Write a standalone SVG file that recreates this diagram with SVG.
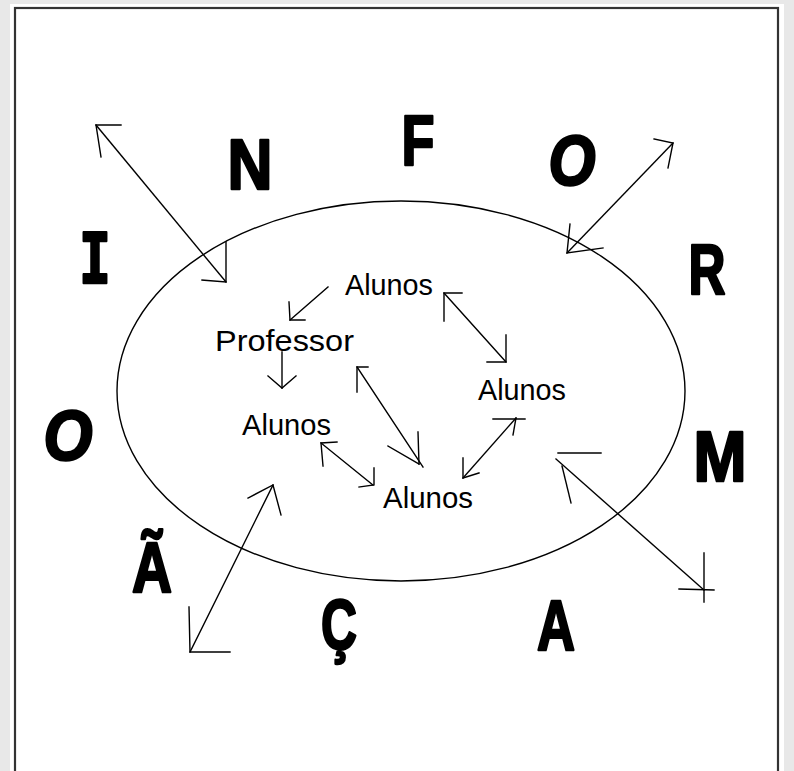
<svg xmlns="http://www.w3.org/2000/svg" width="794" height="771" viewBox="0 0 794 771">
<style>
.big{font-family:"Liberation Sans",Arial,sans-serif;font-weight:bold;font-size:70px;fill:#000;stroke:#000;stroke-width:2.5;stroke-linejoin:round;text-anchor:middle}
.lbl{font-family:"Liberation Sans",Arial,sans-serif;font-size:29px;fill:#000}
.ln{fill:none;stroke:#000;stroke-width:1.4;stroke-linecap:square}
</style>
<rect x="0" y="0" width="794" height="771" fill="#e8e8e8"/>
<rect x="10" y="4" width="774" height="790" fill="#fff"/>
<rect x="15" y="8" width="763" height="790" fill="#fff" stroke="#333" stroke-width="2.2"/>
<ellipse id="circle" cx="401" cy="391" rx="284" ry="190" fill="none" stroke="#000" stroke-width="1.4"/>
<g id="letters">
<text class="big" x="95" y="283" textLength="32" lengthAdjust="spacingAndGlyphs" style="font-family:'DejaVu Sans Mono',monospace">I</text>
<text class="big" x="250" y="189" textLength="45" lengthAdjust="spacingAndGlyphs">N</text>
<text class="big" x="418" y="165" textLength="33" lengthAdjust="spacingAndGlyphs">F</text>
<text class="big" x="572" y="185" textLength="47" lengthAdjust="spacingAndGlyphs" font-style="italic">O</text>
<text class="big" x="707" y="294" textLength="37" lengthAdjust="spacingAndGlyphs">R</text>
<text class="big" x="720" y="481" textLength="53" lengthAdjust="spacingAndGlyphs">M</text>
<text class="big" x="556" y="650" textLength="38" lengthAdjust="spacingAndGlyphs">A</text>
<text class="big" x="339" y="649" textLength="36" lengthAdjust="spacingAndGlyphs">Ç</text>
<text class="big" x="152" y="592" textLength="40" lengthAdjust="spacingAndGlyphs">Ã</text>
<text class="big" x="68" y="460" textLength="49" lengthAdjust="spacingAndGlyphs" font-style="italic">O</text>
</g>
<g id="n-alunos-top"><text class="lbl" x="345" y="295" textLength="88" lengthAdjust="spacingAndGlyphs">Alunos</text></g>
<g id="n-professor"><text class="lbl" x="215" y="351" textLength="139" lengthAdjust="spacingAndGlyphs">Professor</text></g>
<g id="n-alunos-left"><text class="lbl" x="242" y="435" textLength="89" lengthAdjust="spacingAndGlyphs">Alunos</text></g>
<g id="n-alunos-right"><text class="lbl" x="478" y="400" textLength="88" lengthAdjust="spacingAndGlyphs">Alunos</text></g>
<g id="n-alunos-bottom"><text class="lbl" x="383" y="508" textLength="90" lengthAdjust="spacingAndGlyphs">Alunos</text></g>
<g id="connectors">
<line class="ln" x1="96" y1="125" x2="226" y2="282"/>
<polyline class="ln" points="121,125 96,125 101,157"/>
<polyline class="ln" points="226,242 226,282 202,280"/>
<line class="ln" x1="567" y1="253" x2="673" y2="143"/>
<polyline class="ln" points="654,139 673,143 668,168"/>
<polyline class="ln" points="570,224 567,253 603,248"/>
<line class="ln" x1="328" y1="287" x2="290" y2="320"/>
<polyline class="ln" points="289,302 290,320 305,320"/>
<line class="ln" x1="282" y1="352" x2="282" y2="388"/>
<polyline class="ln" points="268,376 282,388 296,376"/>
<line class="ln" x1="444" y1="293" x2="506" y2="362"/>
<polyline class="ln" points="462,293 444,293 444,321"/>
<polyline class="ln" points="506,335 506,362 487,362"/>
<line class="ln" x1="357" y1="367" x2="423" y2="467"/>
<polyline class="ln" points="368,367 357,367 357,392"/>
<line class="ln" x1="418" y1="432" x2="419" y2="464"/>
<line class="ln" x1="388" y1="446" x2="419" y2="464"/>
<line class="ln" x1="321" y1="443" x2="373" y2="485"/>
<polyline class="ln" points="337,442 321,443 323,466"/>
<polyline class="ln" points="374,468 374,485 359,487"/>
<line class="ln" x1="463" y1="478" x2="516" y2="418"/>
<polyline class="ln" points="463,458 463,478 479,473"/>
<line class="ln" x1="493" y1="419" x2="525" y2="419"/>
<line class="ln" x1="516" y1="418" x2="513" y2="435"/>
<line class="ln" x1="556" y1="459" x2="704" y2="590"/>
<line class="ln" x1="558" y1="453" x2="601" y2="453"/>
<line class="ln" x1="562" y1="466" x2="571" y2="503"/>
<line class="ln" x1="704" y1="553" x2="704" y2="602"/>
<line class="ln" x1="679" y1="589" x2="714" y2="590"/>
<line class="ln" x1="190" y1="652" x2="273" y2="485"/>
<polyline class="ln" points="248,498 273,485 281,515"/>
<polyline class="ln" points="189,607 190,652 230,652"/>
</g>
</svg>
